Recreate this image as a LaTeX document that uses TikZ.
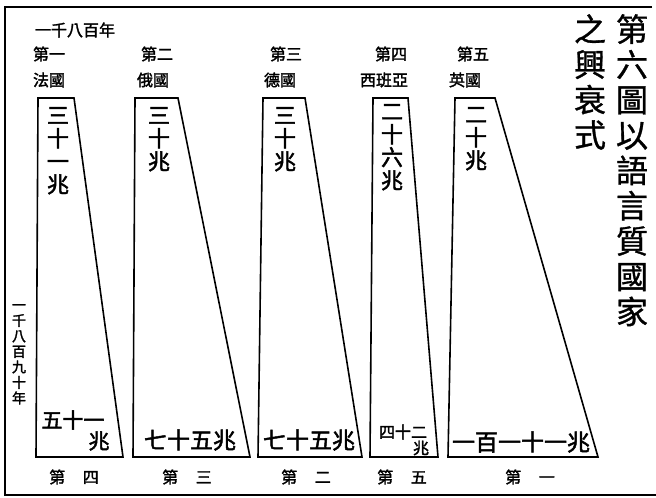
\documentclass[tikz,border=0pt]{standalone}
\usepackage{fontspec}
\newfontfamily\cjk[FakeBold=1]{Noto Sans CJK TC}
\newfontfamily\cjkb[FakeBold=2]{Noto Sans CJK TC}
\tikzset{
	pics/bar/.style n args={4}{
		code = {
			\draw[line width=1.6pt, line join=miter] (#1, 98) -- (#2, 98) -- (#4, 457) -- (#3, 457) -- cycle;
		}
	},
	lbl/.style={inner sep=0pt, font=\cjkb\fontsize{16}{17}\selectfont},
	vnum/.style={inner sep=0pt, anchor=north, align=center, font=\cjkb\fontsize{22}{23}\selectfont},
	hnum/.style={inner sep=0pt, font=\cjkb\fontsize{23}{24}\selectfont},
	title/.style={inner sep=0pt, anchor=north, align=center, font=\cjk\fontsize{32}{35.3}\selectfont}
}
\begin{document}
\begin{tikzpicture}[x=1pt, y=-1pt]
	\useasboundingbox (0, 0) rectangle (656, 498);
	% --- frame ---
	\draw[line width=2pt] (652, 7) -- (5, 7) -- (5, 495) -- (656, 495);

	% --- bars ---
	\pic{bar={38}	{74}	{36}	{123}};
	\pic{bar={135}	{178}	{133}	{250}};
	\pic{bar={263}	{305}	{258}	{362}};
	\pic{bar={373}	{408}	{370}	{438}};
	\pic{bar={455}	{495}	{448}	{598}};

	% --- top labels ---
	\node[lbl] (year1) at (75, 30) {一千八百年};
	\node[lbl] (rank1) at (49, 54) {第一};
	\node[lbl] (fr) at (49, 80) {法國};
	\node[lbl] (rank2) at (157, 54) {第二};
	\node[lbl] (ru) at (153, 80) {俄國};
	\node[lbl] (rank3) at (286, 54) {第三};
	\node[lbl] (de) at (280, 80) {德國};
	\node[lbl] (rank4) at (391, 54) {第四};
	\node[lbl] (es) at (384, 80) {西班亞};
	\node[lbl] (rank5) at (473, 54) {第五};
	\node[lbl] (en) at (465, 80) {英國};

	% --- 1800 values ---
	\node[vnum] (fr-a) at (58, 107) {三\\十\\一\\兆};
	\node[vnum] (ru-a) at (159, 107) {三\\十\\兆};
	\node[vnum] (de-a) at (285, 107) {三\\十\\兆};
	\node[vnum] (es-a) at (392, 104) {二\\十\\六\\兆};
	\node[vnum] (en-a) at (476, 107) {二\\十\\兆};

	% --- 1890 values ---
	\node[hnum, font=\cjkb\fontsize{21}{22}\selectfont] (fr-b) at (73, 420) {五十一};
	\node[hnum, font=\cjkb\fontsize{21}{22}\selectfont] (fr-c) at (99, 441) {兆};
	\node[hnum] (ru-b) at (190, 440) {七十五兆};
	\node[hnum] (de-b) at (309, 440) {七十五兆};
	\node[lbl] (es-b) at (403, 432) {四十二};
	\node[lbl] (es-c) at (421, 448) {兆};
	\node[hnum] (en-b) at (521, 442) {一百一十一兆};

	% --- bottom labels ---
	\node[lbl] (rank4b) at (74, 477) {第\hspace{1.1em}四};
	\node[lbl] (rank3b) at (187, 477) {第\hspace{1.1em}三};
	\node[lbl] (rank2b) at (306, 477) {第\hspace{1.1em}二};
	\node[lbl] (rank5b) at (402, 477) {第\hspace{1.1em}五};
	\node[lbl] (rank1b) at (530, 477) {第\hspace{1.1em}一};

	% --- side labels ---
	\node[lbl, anchor=north, align=center, font=\cjkb\fontsize{14}{15.5}\selectfont] (year2) at (19, 304) {一\\千\\八\\百\\九\\十\\年};
	\node[title] (title1) at (632, 14) {第\\六\\圖\\以\\語\\言\\質\\國\\家};
	\node[title] (title2) at (590, 14) {之\\興\\衰\\式};

\end{tikzpicture}
\end{document}
